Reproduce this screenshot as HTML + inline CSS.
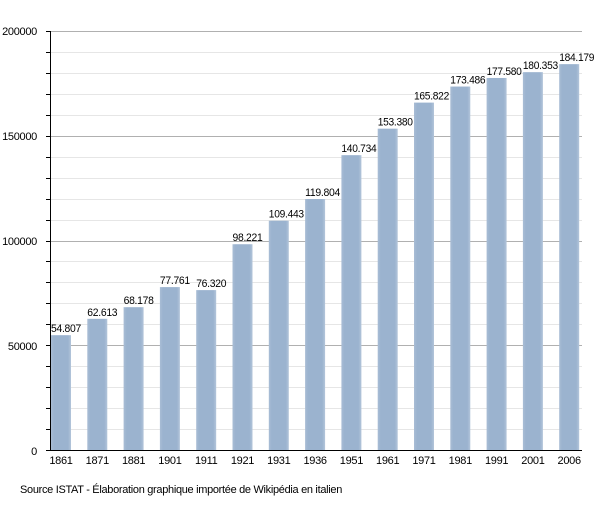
<!DOCTYPE html>
<html><head><meta charset="utf-8"><style>body{margin:0;background:#fff}</style></head><body>
<svg width="610" height="500" xmlns="http://www.w3.org/2000/svg" font-family="Liberation Sans, sans-serif" font-size="11" letter-spacing="-0.3">
<defs><linearGradient id="g" x1="0" x2="1" y1="0" y2="0">
<stop offset="0" stop-color="#a9bdd5"/><stop offset="0.15" stop-color="#9bb3cf"/><stop offset="0.85" stop-color="#9bb3cf"/><stop offset="1" stop-color="#b3c5da"/></linearGradient></defs>
<g id="grid"></g>
<g id="bars"></g>
<line x1="50.5" y1="31" x2="50.5" y2="451" stroke="#000"/>
<line x1="50" y1="450.5" x2="582" y2="450.5" stroke="#000"/>
<g text-anchor="end" fill="#000">
<text x="37" y="35">200000</text><text x="37" y="140">150000</text><text x="37" y="245">100000</text><text x="37" y="350">50000</text><text x="37" y="455">0</text>
</g>
<text x="20" y="493" textLength="322" lengthAdjust="spacingAndGlyphs">Source ISTAT - Élaboration graphique importée de Wikipédia en italien</text>
<script>
var ns="http://www.w3.org/2000/svg",gr=document.getElementById('grid'),br=document.getElementById('bars');
function el(t,a,p,txt){var e=document.createElementNS(ns,t);for(var k in a)e.setAttribute(k,a[k]);if(txt)e.textContent=txt;p.appendChild(e);}
for(var i=1;i<=20;i++){var y=Math.round(450-i*20.95)+0.5;var maj=i%5==0;
el('line',{x1:50,x2:582,y1:y,y2:y,stroke:maj?'#b0b0b0':'#e6e6e6'},gr);
el('line',{x1:46,x2:50,y1:y,y2:y,stroke:'#000'},gr);}
el('line',{x1:46,x2:50,y1:450.5,y2:450.5,stroke:'#000'},gr);
var yrs=[1861,1871,1881,1901,1911,1921,1931,1936,1951,1961,1971,1981,1991,2001,2006];
var v=[54807,62613,68178,77761,76320,98221,109443,119804,140734,153380,165822,173486,177580,180353,184179];
for(var i=0;i<15;i++){var x=51+i*36.3,h=v[i]*419/200000,y=450-h,s=(v[i]/1000).toFixed(3);
el('rect',{x:x,y:y,width:20,height:h,fill:'url(#g)'},br);
el('text',{x:x,y:y-3,fill:'#000',textLength:s.length==6?30:35,lengthAdjust:'spacingAndGlyphs'},br,s);
el('text',{x:x+10,y:464,'text-anchor':'middle',fill:'#000'},br,yrs[i]);}
</script>
</svg>
</body></html>
